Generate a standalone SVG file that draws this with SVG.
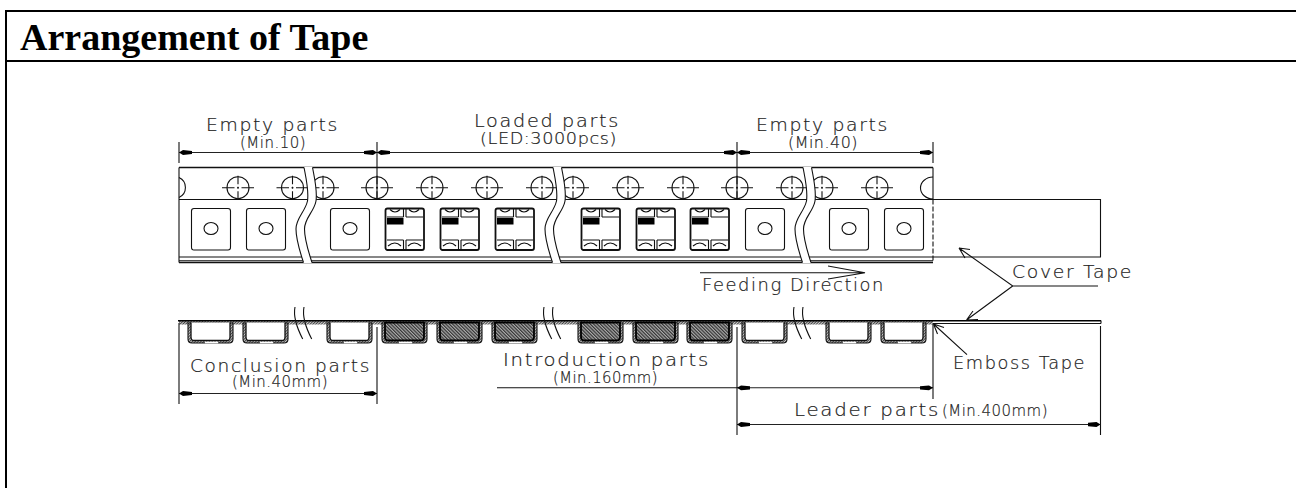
<svg xmlns="http://www.w3.org/2000/svg" width="1296" height="488" viewBox="0 0 1296 488">
<style>
.l{fill:none;stroke:#111;stroke-width:1.1}
.t{fill:none;stroke:#111;stroke-width:1.5}
.c,.s{font-family:"DejaVu Sans","Liberation Sans",sans-serif;font-weight:200;fill:#222;stroke:#222;stroke-width:.2}
.c{font-size:17px;letter-spacing:1.500px}
.s{font-size:15.500px;letter-spacing:.500px}
.d{fill:none;stroke:#222;stroke-width:1.1;marker-start:url(#ah);marker-end:url(#ah)}
.o{fill:none;stroke:#111;stroke-width:1.1}
</style>
<defs>
<marker id="ah" markerUnits="userSpaceOnUse" markerWidth="14" markerHeight="6" refX="13" refY="3" orient="auto-start-reverse"><path d="M13 3L9 .6L0 1.400V4.600L9 5.400Z" fill="#000"/></marker>
<pattern id="h1" width="2" height="2" patternUnits="userSpaceOnUse" patternTransform="rotate(45)"><rect width="2" height="2" fill="#ccc"/><rect width="1" height="2" fill="#444"/></pattern>
<pattern id="h2" width="2.4" height="2.4" patternUnits="userSpaceOnUse" patternTransform="rotate(-45)"><rect width="2.4" height="2.4" fill="#aaa"/><rect width="1.2" height="2.4" fill="#333"/></pattern>
<g id="hole"><circle r="11" class="l"/><path class="l" d="M-16 0H-3.500M-1 0H1M3.500 0H16M0 -12V-3.500M0 -1V1M0 3.500V12"/></g>
<g id="empty"><rect x="0.5" y="208.5" width="39" height="41.5" rx="2.5" class="l"/><ellipse cx="20" cy="228.5" rx="7" ry="6" class="l"/></g>
<g id="loaded"><rect x="0.5" y="208.5" width="38.5" height="41.5" rx="2" fill="#fff" stroke="#111" stroke-width="1.8"/><path class="l" d="M18.500 208.500V217M21 208.500V217M2 217H18.500M21 217H38M18.500 240V250M21 240V250M2 240H18.500M21 240H38"/><path class="l" d="M5 209.500Q10 214.500 15 209.500M24 209.500Q29 214.500 34 209.500M3 246Q10 240 16 246M23 246Q29 240 36 246"/><rect x="2" y="218" width="16.500" height="6.500" fill="#000"/></g>
<path id="brk" d="M304 167C306 178 309 190 307.500 201C305 212 296 218 296 229C296 240 300 252 303.500 263L312 263C308.500 252 304.500 240 304.500 229C304.500 218 314 212 316 201C317.500 190 314.500 178 312.500 167Z" fill="#fff" stroke="none"/>
<path id="brc" class="l" d="M304 167.500C306 178 309 190 307.500 201C305 212 296 218 296 229C296 240 300 252 303.500 262.500M312.500 167.500C314.500 178 317.500 190 316 201C314 212 304.500 218 304.500 229C304.500 240 308.500 252 312 262.500"/>
<g id="pk"><path d="M-3 323V339Q-3 343 1 343H38Q42 343 42 339V323Z" fill="url(#h1)" stroke="#111" stroke-width="1.1"/><path d="M0 322.500V337Q0 340.500 3 340.500H36Q39 340.500 39 337V322.500" fill="#fff" stroke="#111" stroke-width="1.3"/><path d="M14 342.500H27" stroke="#fff" stroke-width="1.600"/></g>
<g id="pl"><path d="M-3 323V339Q-3 343 1 343H38Q42 343 42 339V323Z" fill="url(#h1)" stroke="#111" stroke-width="1.1"/><path d="M0 322.500V337Q0 340.500 3 340.500H36Q39 340.500 39 337V322.500Z" fill="url(#h2)" stroke="#000" stroke-width="1.8"/><path d="M14 342.500H27" stroke="#fff" stroke-width="1.600"/></g>
<path id="bs" class="l" d="M295 307C293 317 297 328 302.700 339M304 307C302 317 306 328 311.700 339"/>
</defs>
<g id="frame"><path d="M6 488V11H1296M6 61H1296" fill="none" stroke="#000" stroke-width="2"/><text x="20" y="50" font-family="'Liberation Serif',serif" font-weight="700" font-size="38" fill="#000">Arrangement of Tape</text></g>
<g id="carrier-top">
<path class="t" d="M179 167.500H933M179 262.500H933"/>
<path class="l" d="M179 167.500V262.500M933 167.500V199.500M179 199.500H1100.500V257H179M179 260.800H933"/>
<path d="M933 199.500V262.500" fill="none" stroke="#111" stroke-width="1.100" stroke-dasharray="5 2"/>
<path class="l" d="M179 177.500A11 11 0 0 1 179 197.500M933 177A12.500 11 0 0 0 933 199"/>
<use href="#hole" x="238" y="187.700"/><use href="#hole" x="292.500" y="187.700"/><use href="#hole" x="323" y="187.700"/><use href="#hole" x="377" y="187.700"/><use href="#hole" x="432" y="187.700"/><use href="#hole" x="487" y="187.700"/><use href="#hole" x="542" y="187.700"/><use href="#hole" x="573" y="187.700"/><use href="#hole" x="628" y="187.700"/><use href="#hole" x="683" y="187.700"/><use href="#hole" x="737" y="187.700"/><use href="#hole" x="792" y="187.700"/><use href="#hole" x="822" y="187.700"/><use href="#hole" x="877" y="187.700"/>
<use href="#empty" x="191"/><use href="#empty" x="246"/><use href="#empty" x="330"/><use href="#loaded" x="385"/><use href="#loaded" x="440"/><use href="#loaded" x="495"/><use href="#loaded" x="581"/><use href="#loaded" x="636"/><use href="#loaded" x="690"/><use href="#empty" x="745"/><use href="#empty" x="829"/><use href="#empty" x="884"/>
<use href="#brk"/><use href="#brc"/><use href="#brk" x="249"/><use href="#brc" x="249"/><use href="#brk" x="499"/><use href="#brc" x="499"/>
</g>
<g id="carrier-bottom">
<rect x="179" y="321" width="754" height="3.500" fill="url(#h1)"/>
<use href="#pk" x="191"/><use href="#pk" x="246"/><use href="#pk" x="330"/><use href="#pl" x="385"/><use href="#pl" x="440"/><use href="#pl" x="495"/><use href="#pl" x="581"/><use href="#pl" x="636"/><use href="#pl" x="690"/><use href="#pk" x="745"/><use href="#pk" x="829"/><use href="#pk" x="884"/>
<path d="M178 320.700H1101" stroke="#000" stroke-width="1.500" fill="none"/><path class="l" d="M933 323.500H1101M1101 320.500V323.500"/>
<use href="#bs"/><use href="#bs" x="249"/><use href="#bs" x="499"/>
</g>
<g id="connectors">
<path class="l" d="M179 142V163M377 142V199M737 142V199M933 142V163M179 323V404M377 327V404M737 327V435M933 324V399M1100.500 326V435"/>
<line class="d" x1="179" y1="152.500" x2="377" y2="152.500"/><line class="d" x1="377" y1="152.500" x2="737" y2="152.500"/><line class="d" x1="737" y1="152.500" x2="933" y2="152.500"/>
<line class="d" x1="179" y1="393.500" x2="377" y2="393.500"/>
<line class="l" x1="497" y1="387.800" x2="737" y2="387.800"/>
<line class="d" x1="737" y1="387.800" x2="933" y2="387.800"/>
<line class="d" x1="737" y1="424.500" x2="1100.500" y2="424.500"/>
<path class="o" d="M700 272.700H865M828 266L865 272.700L828 279"/>
<path class="o" d="M1098 286H1012.700L959 248M959 248L970 249.500M959 248L965 258M1012.700 286L966.500 320M966.500 320L978 319.500M966.500 320L973 311"/>
<path class="o" d="M967 354.700L933.500 324M933.500 324L944 327.500M933.500 324L937.500 334"/>
</g>
<g id="labels">
<text class="c" x="206" y="131" textLength="133" lengthAdjust="spacingAndGlyphs">Empty parts</text>
<text class="s" x="240" y="147.500" textLength="66" lengthAdjust="spacingAndGlyphs">(Min.10)</text>
<text class="c" x="474" y="127" textLength="146" lengthAdjust="spacingAndGlyphs">Loaded parts</text>
<text class="s" x="480" y="144" textLength="137" lengthAdjust="spacingAndGlyphs">(LED:3000pcs)</text>
<text class="c" x="756" y="131" textLength="133" lengthAdjust="spacingAndGlyphs">Empty parts</text>
<text class="s" x="788" y="147.500" textLength="70" lengthAdjust="spacingAndGlyphs">(Min.40)</text>
<text class="c" x="702" y="291" textLength="183" lengthAdjust="spacingAndGlyphs">Feeding Direction</text>
<text class="c" x="1012" y="278" textLength="121" lengthAdjust="spacingAndGlyphs">Cover Tape</text>
<text class="c" x="190" y="371.500" textLength="181" lengthAdjust="spacingAndGlyphs">Conclusion parts</text>
<text class="s" x="232" y="387" textLength="96" lengthAdjust="spacingAndGlyphs">(Min.40mm)</text>
<text class="c" x="503" y="366" textLength="207" lengthAdjust="spacingAndGlyphs">Introduction parts</text>
<text class="s" x="553" y="382.500" textLength="105" lengthAdjust="spacingAndGlyphs">(Min.160mm)</text>
<text class="c" x="953" y="368.500" textLength="133" lengthAdjust="spacingAndGlyphs">Emboss Tape</text>
<text class="c" x="794" y="416"><tspan textLength="146" lengthAdjust="spacingAndGlyphs">Leader parts</tspan><tspan class="s" x="942" textLength="106" lengthAdjust="spacingAndGlyphs">(Min.400mm)</tspan></text>
</g>
</svg>
